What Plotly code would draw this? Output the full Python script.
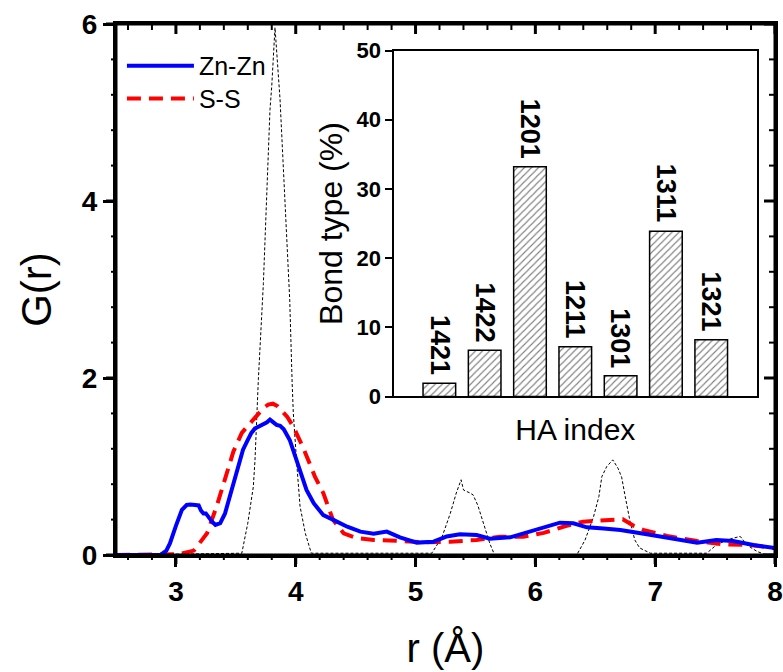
import plotly.graph_objects as go

# ---------------- data ----------------
r_zn = [2.50, 2.70, 2.87, 2.92, 2.95, 3.00, 3.05, 3.09, 3.12, 3.16, 3.19, 3.21, 3.23, 3.25, 3.27,
        3.30, 3.33, 3.37, 3.41, 3.45, 3.49, 3.535, 3.56, 3.60, 3.63, 3.66, 3.70, 3.73, 3.76, 3.785,
        3.81, 3.84, 3.87, 3.90, 3.95, 4.01, 4.05, 4.09, 4.15, 4.23, 4.31, 4.43, 4.54, 4.65, 4.76,
        4.87, 5.01, 5.15, 5.26, 5.37, 5.51, 5.62, 5.79, 5.955, 6.095, 6.205, 6.317, 6.43, 6.57,
        6.71, 6.93, 7.15, 7.35, 7.51, 7.65, 7.82, 8.00]
g_zn = [0.0, 0.0, 0.0, 0.05, 0.13, 0.33, 0.51, 0.565, 0.57, 0.565, 0.56, 0.50, 0.47, 0.47, 0.43,
        0.38, 0.34, 0.36, 0.47, 0.66, 0.85, 1.04, 1.19, 1.30, 1.38, 1.43, 1.46, 1.47, 1.50, 1.53,
        1.50, 1.47, 1.46, 1.42, 1.30, 1.07, 0.89, 0.735, 0.585, 0.45, 0.40, 0.32, 0.264, 0.24, 0.264,
        0.20, 0.14, 0.15, 0.21, 0.234, 0.226, 0.185, 0.20, 0.264, 0.33, 0.365, 0.358, 0.313, 0.30,
        0.283, 0.234, 0.18, 0.14, 0.17, 0.158, 0.113, 0.08]

r_ss = [2.50, 3.00, 3.03, 3.15, 3.26, 3.34, 3.41, 3.48, 3.55, 3.60, 3.65, 3.69, 3.73, 3.77, 3.81,
        3.85, 3.88, 3.93, 3.98, 4.06, 4.16, 4.23, 4.31, 4.40, 4.51, 4.65, 4.84, 5.06, 5.29, 5.51,
        5.705, 5.90, 6.07, 6.26, 6.40, 6.62, 6.73, 6.82, 6.90, 7.10, 7.35, 7.57, 7.79, 8.00]
g_ss = [0.0, 0.0, 0.01, 0.05, 0.245, 0.55, 0.85, 1.17, 1.38, 1.46, 1.53, 1.60, 1.66, 1.70, 1.71,
        1.68, 1.64, 1.56, 1.45, 1.22, 0.886, 0.70, 0.40, 0.245, 0.19, 0.17, 0.16, 0.143, 0.15, 0.17,
        0.207, 0.207, 0.25, 0.33, 0.377, 0.40, 0.404, 0.33, 0.283, 0.215, 0.158, 0.12, 0.113, 0.076]

r_ref = [2.50, 3.55, 3.60, 3.646, 3.66, 3.688, 3.73, 3.757, 3.785, 3.80, 3.827, 3.869, 3.91, 3.95,
         3.97, 3.98, 4.008, 4.036, 4.08, 4.13, 5.135, 5.22, 5.29, 5.34, 5.38, 5.40, 5.455, 5.48,
         5.52, 5.54, 5.58, 5.62, 5.66, 6.345, 6.415, 6.485, 6.53, 6.555, 6.596, 6.646, 6.69, 6.72,
         6.75, 6.79, 6.83, 6.87, 6.96, 7.43, 7.51, 7.60, 7.65, 7.71, 7.765, 7.85, 7.93, 8.00]
g_ref = [0.0, 0.02, 0.36, 0.77, 1.07, 1.98, 3.07, 4.02, 5.03, 5.30, 5.96, 5.15, 4.02, 2.88,
         1.95, 1.60, 1.04, 0.55, 0.245, 0.02, 0.02, 0.20, 0.47, 0.70, 0.85, 0.735, 0.70, 0.68,
         0.56, 0.47, 0.29, 0.13, 0.0, 0.0, 0.17, 0.43, 0.66, 0.886, 1.0, 1.075, 0.98, 0.88,
         0.66, 0.38, 0.17, 0.08, 0.02, 0.02, 0.113, 0.17, 0.19, 0.21, 0.113, 0.04, 0.0, 0.0]

ha_labels = ["1421", "1422", "1201", "1211", "1301", "1311", "1321"]
bond_pct = [1.9, 6.7, 33.2, 7.2, 3.0, 23.9, 8.2]

x_ticks = [3, 4, 5, 6, 7, 8]
y_ticks = [0, 2, 4, 6]
inset_y_ticks = [0, 10, 20, 30, 40, 50]
x_minor_step = 0.2
y_minor_step = 0.4

FONT = "Liberation Sans, Arial, sans-serif"
bar_pos = list(range(len(ha_labels)))
x_dtick = x_ticks[1] - x_ticks[0]
y_dtick = y_ticks[1] - y_ticks[0]
iy_dtick = inset_y_ticks[1] - inset_y_ticks[0]
X_RANGE = [2.5, 8]
Y_RANGE = [0, 6]

# minor tick positions (axis furniture, derived from the axis range and steps)
x_minor = [round(k * x_minor_step, 6) for k in range(int(X_RANGE[0] / x_minor_step) + 1,
                                                     int(X_RANGE[1] / x_minor_step) + 1)
           if abs(k * x_minor_step - round(k * x_minor_step)) > 1e-6]
y_minor = [round(k * y_minor_step, 6) for k in range(1, int(Y_RANGE[1] / y_minor_step) + 1)
           if abs((k * y_minor_step) / y_dtick - round((k * y_minor_step) / y_dtick)) > 1e-6]


def xfrac(v):
    return (v - X_RANGE[0]) / (X_RANGE[1] - X_RANGE[0])


def yfrac(v):
    return (v - Y_RANGE[0]) / (Y_RANGE[1] - Y_RANGE[0])


fig = go.Figure()

fig.add_trace(go.Scatter(x=r_ref, y=g_ref, mode="lines", showlegend=False,
                         line=dict(color="black", width=1, dash="3px,2px"), hoverinfo="skip"))
fig.add_trace(go.Scatter(x=r_ss, y=g_ss, mode="lines", name="S-S", legend="legend2",
                         line=dict(color="#ff0000", width=4, dash="14px,8px")))
fig.add_trace(go.Scatter(x=r_zn, y=g_zn, mode="lines", name="Zn-Zn", legend="legend",
                         line=dict(color="#0000ff", width=4)))

# inset bars
fig.add_trace(go.Bar(x=bar_pos, y=bond_pct, xaxis="x2", yaxis="y2", showlegend=False,
                     width=0.72, hovertext=ha_labels,
                     marker=dict(color="white", line=dict(color="black", width=1.5),
                                 pattern=dict(shape="/", fgcolor="black", bgcolor="white",
                                              size=5, solidity=0.22))))

for pos, lab, val in zip(bar_pos, ha_labels, bond_pct):
    fig.add_annotation(x=pos, y=val, xref="x2", yref="y2", text=lab, showarrow=False,
                       textangle=90, yanchor="bottom", xanchor="center", yshift=6,
                       font=dict(family=FONT, size=27, color="black", weight="bold"))

# frame of the main plot area (paper-referenced, so it is never clipped)
fig.add_shape(type="rect", xref="paper", yref="paper", x0=0, x1=1, y0=0, y1=1,
              line=dict(color="black", width=3), fillcolor="rgba(0,0,0,0)", layer="above")


def xtick(xv, anchor, p0, p1, w):
    f = xfrac(xv)
    fig.add_shape(type="line", xref="paper", yref="paper", ysizemode="pixel", yanchor=anchor,
                  x0=f, x1=f, y0=p0, y1=p1, line=dict(color="black", width=w), layer="above")


def ytick(yv, anchor, p0, p1, w):
    f = yfrac(yv)
    fig.add_shape(type="line", xref="paper", yref="paper", xsizemode="pixel", xanchor=anchor,
                  y0=f, y1=f, x0=p0, x1=p1, line=dict(color="black", width=w), layer="above")


for xv in x_ticks:
    xtick(xv, 0, 0, -9, 3)      # bottom, outward
    xtick(xv, 1, 0, -10, 3)     # top, inward
for xv in x_minor:
    xtick(xv, 0, 0, -5, 2)
    xtick(xv, 1, 0, -6, 2)
for yv in y_ticks:
    ytick(yv, 0, 0, -10, 3)     # left, outward
    ytick(yv, 1, 0, -11, 3)     # right, inward
for yv in y_minor:
    ytick(yv, 0, 0, -5, 2)
    ytick(yv, 1, 0, -6, 2)

tickfont_main = dict(family=FONT, size=28, color="black", weight="bold")
leg_common = dict(xanchor="left", yanchor="middle", bgcolor="rgba(0,0,0,0)",
                  font=dict(family=FONT, size=25, color="black"), itemwidth=67)

fig.update_layout(
    width=783, height=672,
    margin=dict(l=116, r=8, t=24, b=117, autoexpand=False),
    paper_bgcolor="white", plot_bgcolor="rgba(0,0,0,0)",
    font=dict(family=FONT, color="black"),
    legend=dict(x=0.009, y=0.921, **leg_common),
    legend2=dict(x=0.009, y=0.859, **leg_common),
    xaxis=dict(domain=[0, 1], range=X_RANGE, tickmode="linear", tick0=0, dtick=x_dtick,
               ticks="outside", ticklen=9,
               tickwidth=3, tickcolor="black", showline=True, linewidth=3, linecolor="black",
               mirror=True, showgrid=False, zeroline=False, tickfont=tickfont_main,
               automargin=False,
               title=dict(text="r (Å)", font=dict(family=FONT, size=40, color="black"), standoff=29)),
    yaxis=dict(domain=[0, 1], range=Y_RANGE, tickmode="linear", tick0=0, dtick=y_dtick,
               ticks="outside", ticklen=10,
               tickwidth=3, tickcolor="black", showline=True, linewidth=3, linecolor="black",
               mirror=True, showgrid=False, zeroline=False, tickfont=tickfont_main,
               automargin=False,
               title=dict(text="G(r)", font=dict(family=FONT, size=42, color="black"), standoff=18)),
    xaxis2=dict(domain=[0.4219, 0.972], anchor="y2", range=[-1, 7],
                showticklabels=False, ticks="", showline=True, linewidth=1.5, linecolor="black",
                mirror=True, showgrid=False, zeroline=False, automargin=False,
                title=dict(text="HA index", font=dict(family=FONT, size=30, color="black"), standoff=22)),
    yaxis2=dict(domain=[0.2985, 0.950], anchor="x2", range=[0, 50], tickmode="linear",
                tick0=0, dtick=iy_dtick,
                ticks="outside", ticklen=7, tickwidth=2, tickcolor="black", showline=True,
                linewidth=1.5, linecolor="black", mirror=True, showgrid=False, zeroline=False,
                automargin=False,
                tickfont=dict(family=FONT, size=22, color="black", weight="bold"),
                title=dict(text="Bond type (%)", font=dict(family=FONT, size=32, color="black"), standoff=4)),
)

fig.write_html("out.html", config={"displayModeBar": False},
               post_script="document.body.style.margin='0';")
